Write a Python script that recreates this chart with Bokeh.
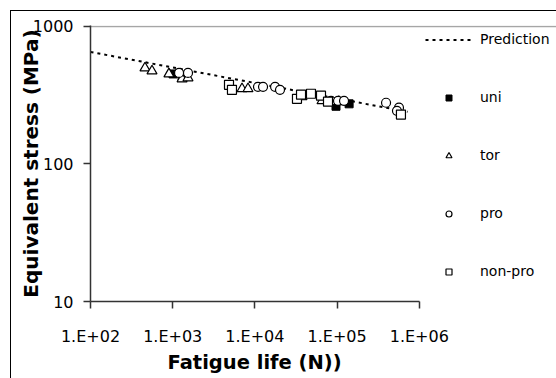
from bokeh.plotting import figure
from bokeh.models import (Range1d, FixedTicker, CustomJSTickFormatter, Legend,
                          LegendItem, Title)
from bokeh.embed import file_html
from bokeh.resources import INLINE

# Fatigue test results: cycles to failure vs. equivalent stress (MPa)
uni_N = [1010, 1300, 97000, 140000]
uni_S = [450, 428, 262, 273]

tor_N = [460, 560, 900, 1300, 1535, 6970, 8240, 37400, 65500, 105000]
tor_S = [497, 473, 450, 414, 421, 351, 351, 307, 287, 283]

pro_N = [1195, 1535, 10900, 12560, 17600, 20200, 84300, 102600, 121400,
         394000, 566000, 535000]
pro_S = [458, 458, 363, 363, 363, 345, 287, 287, 287, 278, 256, 243]

nonpro_N = [4840, 5260, 32500, 36400, 48100, 63700, 77500, 598000]
nonpro_S = [375, 345, 297, 318, 323, 313, 283, 228]

# Predicted life curve (straight line on log-log axes)
pred_N = [100, 720000]
pred_S = [650, 239]

x_ticks = [1e2, 1e3, 1e4, 1e5, 1e6]
y_ticks = [10, 100, 1000]

FONT = "DejaVu Sans"

# The frame runs to the right edge so the legend can sit beside the axes;
# the x axis itself is bounded to 1e2..1e6.
p = figure(width=546, height=368, x_axis_type="log", y_axis_type="log",
           x_range=Range1d(1e2, 4.8e7), y_range=Range1d(10, 1012),
           output_backend="svg", toolbar_location=None,
           min_border_left=79, min_border_right=0,
           min_border_top=14, min_border_bottom=78)
# chart-area border: only its left and top edges fall inside the window
p.styles = {"border-left": "1.5px solid black", "border-top": "1.5px solid black",
            "margin-left": "10px", "margin-top": "10px"}
p.outline_line_color = None
p.background_fill_color = "white"
p.border_fill_color = "white"

# Axes
for ax in (p.xaxis[0], p.yaxis[0]):
    ax.axis_line_color = "#333333"
    ax.axis_line_width = 1.5
    ax.major_tick_line_color = "#333333"
    ax.major_tick_line_width = 1.5
    ax.major_tick_in = 0
    ax.major_tick_out = 7
    ax.minor_tick_line_color = None
    ax.major_label_text_font = FONT
    ax.major_label_text_font_size = "16px"
    ax.major_label_text_color = "black"
    ax.axis_label_text_font = FONT
    ax.axis_label_text_font_style = "bold"
    ax.axis_label_text_color = "black"

p.xaxis.bounds = (1e2, 1e6)
p.xaxis.ticker = FixedTicker(ticks=x_ticks)
p.yaxis.ticker = FixedTicker(ticks=y_ticks)
p.xaxis.formatter = CustomJSTickFormatter(
    code="const e = Math.round(Math.log10(tick)); return '1.E+' + String(e).padStart(2, '0');")
p.yaxis.formatter = CustomJSTickFormatter(code="return tick.toFixed(0);")
p.xaxis.major_label_standoff = 18

p.yaxis.axis_label = "Equivalent stress (MPa)"
p.yaxis.axis_label_text_font_size = "20px"
p.yaxis.major_label_standoff = 10
p.yaxis.axis_label_standoff = -13

# x-axis title, centred under the 1e2..1e6 span
x_title = Title(text="Fatigue life (N))", align="left", offset=77,
                text_font=FONT, text_font_style="bold",
                text_font_size="19.5px", text_color="black", standoff=0)
p.add_layout(x_title, "below")

# Only the top gridline is shown
p.xgrid.grid_line_color = None
p.ygrid.ticker = FixedTicker(ticks=[1000])
p.ygrid.bounds = (1e2, 1e6)
p.ygrid.grid_line_color = "#a6a6a6"
p.ygrid.grid_line_width = 1.5

# Series
r_pred = p.line(pred_N, pred_S, line_color="black", line_width=2,
                line_dash="3 4")
r_uni = p.scatter(uni_N, uni_S, marker="square", size=8,
                  fill_color="black", line_color="black")
r_tor = p.scatter(tor_N, tor_S, marker="triangle", size=10,
                  fill_color="white", line_color="black", line_width=1.2)
r_pro = p.scatter(pro_N, pro_S, marker="circle", size=9,
                  fill_color="white", line_color="black", line_width=1.2)
r_non = p.scatter(nonpro_N, nonpro_S, marker="square", size=9,
                  fill_color="white", line_color="black", line_width=1.2)

legend = Legend(items=[
    LegendItem(label="Prediction", renderers=[r_pred]),
    LegendItem(label="uni", renderers=[r_uni]),
    LegendItem(label="tor", renderers=[r_tor]),
    LegendItem(label="pro", renderers=[r_pro]),
    LegendItem(label="non-pro", renderers=[r_non]),
], location=(335, 20))
legend.background_fill_color = "white"
legend.background_fill_alpha = 1.0
legend.border_line_color = None
legend.padding = 15
legend.margin = 0
legend.glyph_width = 47
legend.glyph_height = 15
legend.label_height = 20
legend.spacing = 38
legend.label_standoff = 8
legend.label_text_font = FONT
legend.label_text_font_size = "14px"
legend.label_text_color = "black"
p.add_layout(legend, "center")

open("out.html", "w").write(file_html(p, INLINE))
